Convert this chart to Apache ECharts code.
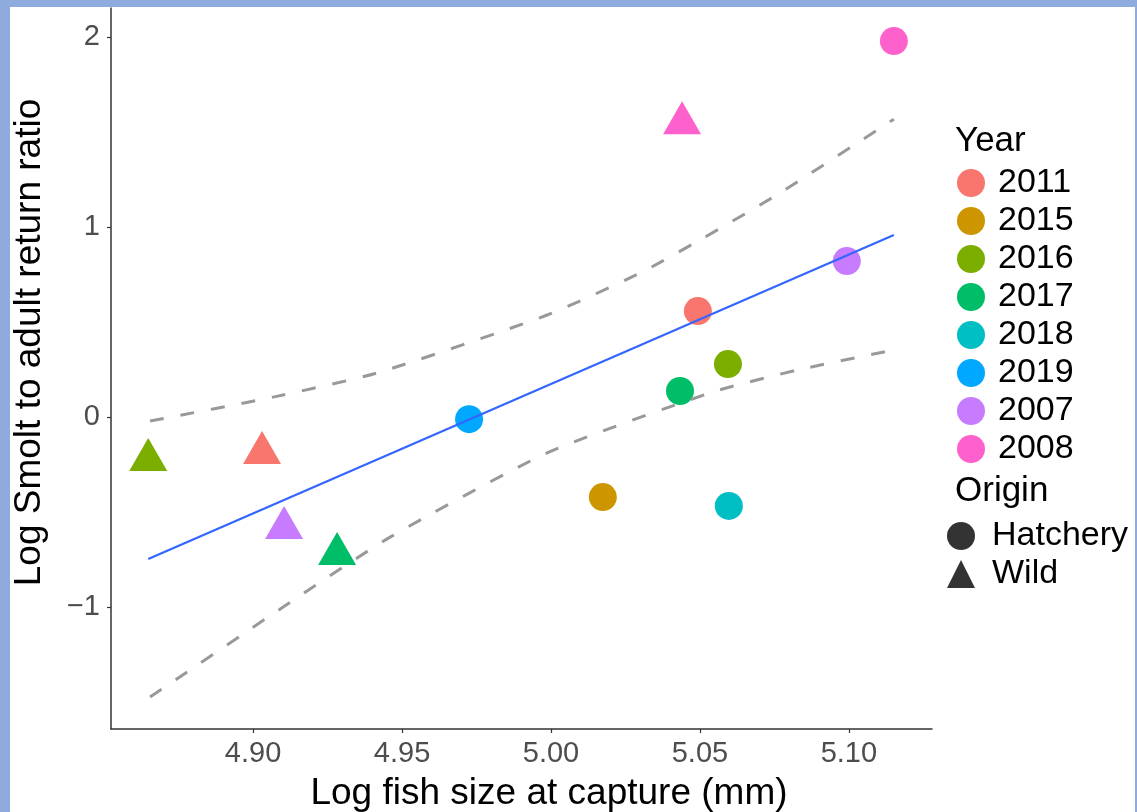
<!DOCTYPE html>
<html>
<head>
<meta charset="utf-8">
<script src="https://cdn.jsdelivr.net/npm/echarts@6/dist/echarts.min.js"></script>
<style>
html,body{margin:0;padding:0;background:#8FAADC;}
#chart{width:1137px;height:812px;}
</style>
</head>
<body>
<div id="chart"></div>
<script>
// Legend order of years and their ggplot hue colours
const years = ['2011','2015','2016','2017','2018','2019','2007','2008'];
const yearColors = ['#F8766D','#CD9600','#7CAE00','#00BE67','#00BFC4','#00A9FF','#C77CFF','#FF61CC'];

// Hatchery points (circles): year, log size, log ratio
const hatcheryYear = ['2011','2015','2016','2017','2018','2019','2007','2008'];
const hatcheryX = [5.0493, 5.0174, 5.0594, 5.0433, 5.0597, 4.9725, 5.0993, 5.1151];
const hatcheryY = [0.558, -0.421, 0.279, 0.137, -0.468, -0.011, 0.821, 1.979];

// Wild points (triangles)
const wildYear = ['2011','2016','2007','2017','2008'];
const wildX = [4.9030, 4.8648, 4.9104, 4.9282, 5.0440];
const wildY = [-0.189, -0.226, -0.584, -0.721, 1.547];

// Fitted regression line
const fitX = [4.8648, 5.1151];
const fitY = [-0.747, 0.958];

// Confidence band curves
const upperX = [4.8654, 4.9067, 4.9416, 4.9987, 5.0299, 5.0500, 5.0768, 5.1151];
const upperY = [-0.021, 0.105, 0.232, 0.537, 0.758, 0.932, 1.179, 1.568];
const lowerX = [4.8654, 4.9101, 4.9460, 4.9987, 5.0544, 5.0826, 5.1151];
const lowerY = [-1.474, -1.000, -0.632, -0.189, 0.132, 0.247, 0.353];

// Tick labels
const xTicks = [4.90, 4.95, 5.00, 5.05, 5.10];
const yTicks = [-1, 0, 1, 2];

const FONT = 'Liberation Sans, Arial, Helvetica, sans-serif';
const zip = (a, b) => a.map((v, i) => [v, b[i]]);

const circleSize = 28;
const triSize = [38, 33];

const yearSeries = years.map((yr, i) => {
  const data = [];
  hatcheryYear.forEach((y, j) => {
    if (y === yr) data.push({ value: [hatcheryX[j], hatcheryY[j]], symbol: 'circle', symbolSize: circleSize });
  });
  wildYear.forEach((y, j) => {
    if (y === yr) data.push({ value: [wildX[j], wildY[j]], symbol: 'triangle', symbolSize: triSize, symbolOffset: [0, -5.5] });
  });
  return {
    name: yr, type: 'scatter', data: data,
    itemStyle: { color: yearColors[i], opacity: 1 },
    z: 2, silent: true
  };
});

const chart = echarts.init(document.getElementById('chart'), null, { renderer: 'canvas' });
chart.setOption({
  animation: false,
  backgroundColor: '#8FAADC',
  textStyle: { fontFamily: FONT },
  graphic: {
    elements: [{
      type: 'rect', z: -100, silent: true,
      shape: { x: 10, y: 7, width: 1125, height: 805 },
      style: { fill: '#ffffff' }
    }]
  },
  title: [
    { text: 'Year', left: 955, top: 124, padding: 0,
      textStyle: { fontFamily: FONT, fontSize: 35, fontWeight: 'normal', color: '#000', lineHeight: 35 } },
    { text: 'Origin', left: 955, top: 474, padding: 0,
      textStyle: { fontFamily: FONT, fontSize: 35, fontWeight: 'normal', color: '#000', lineHeight: 35 } }
  ],
  grid: { left: 111, right: 205, top: 8, bottom: 83, containLabel: false, outerBoundsMode: 'none' },
  legend: [
    {
      orient: 'vertical', left: 957, top: 166, padding: 0,
      itemWidth: 28, itemHeight: 28, itemGap: 4,
      data: years.map(y => ({ name: y, icon: 'circle' })),
      textStyle: { fontFamily: FONT, fontSize: 34, color: '#000', padding: [0, 0, 0, 8] },
      selectedMode: false
    },
    {
      orient: 'vertical', left: 947, top: 519, padding: 0,
      itemWidth: 28, itemHeight: 28, itemGap: 4,
      data: [{ name: 'Hatchery', icon: 'circle' }, { name: 'Wild', icon: 'triangle' }],
      textStyle: { fontFamily: FONT, fontSize: 34, color: '#000', padding: [0, 0, 0, 12] },
      selectedMode: false
    }
  ],
  xAxis: {
    type: 'value', min: 4.8523, max: 5.1279,
    name: 'Log fish size at capture (mm)', nameLocation: 'middle', nameGap: 46,
    nameTextStyle: { fontFamily: FONT, fontSize: 37, color: '#000', padding: [0, 0, 0, 55] },
    axisLine: { show: true, onZero: false, lineStyle: { color: '#333', width: 1.5 } },
    axisTick: { show: true, length: 4, customValues: xTicks, lineStyle: { color: '#333', width: 1.2 } },
    axisLabel: { customValues: xTicks, formatter: v => v.toFixed(2), fontFamily: FONT, fontSize: 29, color: '#4D4D4D', margin: 10 },
    splitLine: { show: false }
  },
  yAxis: {
    type: 'value', min: -1.642, max: 2.153,
    name: 'Log Smolt to adult return ratio', nameLocation: 'middle', nameGap: 63,
    nameTextStyle: { fontFamily: FONT, fontSize: 37, color: '#000', padding: [0, 0, 0, 52] },
    axisLine: { show: true, onZero: false, lineStyle: { color: '#333', width: 1.5 } },
    axisTick: { show: true, length: 4, customValues: yTicks, lineStyle: { color: '#333', width: 1.2 } },
    axisLabel: { customValues: yTicks, formatter: v => (v < 0 ? '\u2212' + Math.abs(v) : String(v)), fontFamily: FONT, fontSize: 29, color: '#4D4D4D', margin: 11 },
    splitLine: { show: false }
  },
  series: [
    ...yearSeries,
    { name: 'Hatchery', type: 'scatter', data: [], symbol: 'circle', itemStyle: { color: '#000' } },
    { name: 'Wild', type: 'scatter', data: [], symbol: 'triangle', itemStyle: { color: '#000' } },
    { name: 'fit', type: 'line', data: zip(fitX, fitY), showSymbol: false, symbol: 'none', silent: true,
      lineStyle: { color: '#3366FF', width: 2.2 }, z: 5 },
    { name: 'upper', type: 'line', data: zip(upperX, upperY), showSymbol: false, symbol: 'none', silent: true,
      smooth: 0.2,
      lineStyle: { color: '#999999', width: 3, type: [14, 17] }, z: 5 },
    { name: 'lower', type: 'line', data: zip(lowerX, lowerY), showSymbol: false, symbol: 'none', silent: true,
      smooth: 0.2,
      lineStyle: { color: '#999999', width: 3, type: [14, 17] }, z: 5 }
  ]
});
</script>
</body>
</html>
